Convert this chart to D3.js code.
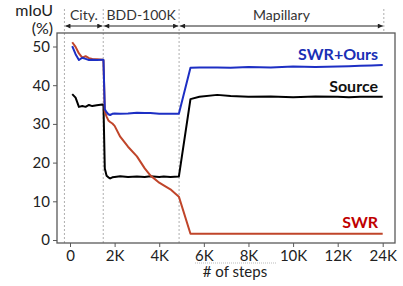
<!DOCTYPE html>
<html><head><meta charset="utf-8">
<script src="https://cdn.jsdelivr.net/npm/d3@7"></script>
<style>body{margin:0;background:#fff}svg{display:block}text{font-family:Lato,"Open Sans",sans-serif}</style>
</head><body>
<script>
const steps  = [100,250,400,550,700,850,1000,1200,1450,1500,1560,1640,1720,1800,1900,2000,2250,2600,3000,3350,3600,4000,4200,4500,4880,5400,5800,6600,7200,8000,9000,10000,11000,12000,15000,18000,21000,24000];
const source = [37.7,36.8,34.4,34.6,34.4,34.9,34.6,34.8,35.0,34.9,18.5,16.6,16.2,15.9,16.2,16.3,16.5,16.3,16.4,16.3,16.5,16.3,16.4,16.3,16.4,36.4,37.0,37.5,37.2,37.0,37.1,36.9,37.1,37.0,36.9,37.0,37.0,37.0];
const ours   = [50.1,48.0,46.5,47.1,46.8,46.5,46.6,46.5,46.6,46.5,33.8,33.0,32.5,32.3,32.6,32.7,32.6,32.7,32.9,32.8,32.8,32.6,32.6,32.6,32.6,44.5,44.6,44.6,44.5,44.7,44.6,44.8,44.7,44.8,44.9,45.0,45.1,45.2];
const swr    = [51.1,49.9,48.2,47.1,47.5,47.0,46.8,46.7,46.6,46.4,33.2,31.9,30.9,30.5,30.1,29.5,26.7,24.1,21.6,18.5,16.7,14.8,14.1,13.1,11.2,1.6,1.6,1.6,1.6,1.6,1.6,1.6,1.6,1.6,1.6,1.6,1.6,1.6];
const xTicks = [0,2000,4000,6000,8000,10000,12000,24000];
const xTickLabels = ["0","2K","4K","6K","8K","10K","12K","24K"];
const yTicks = [0,10,20,30,40,50];
const domains = [{name:"City.",from:-250,to:1490},{name:"BDD-100K",from:1490,to:4890},{name:"Mapillary",from:4890,to:24300}];
const seriesNames = ["SWR+Ours","Source","SWR"];

(function(){
const W=403,H=286;
const svg=d3.select("body").append("svg").attr("width",W).attr("height",H);
const x=d3.scaleLinear().domain([0,12000,24000]).range([70,337.7,382.7]);
const y=d3.scaleLinear().domain([0,50]).range([240,46.5]);
const pL=57,pR=395,pT=33,pB=243;
const axisCol="#595959";

domains.forEach(d=>{
  svg.append("line").attr("x1",x(d.from)).attr("x2",x(d.from)).attr("y1",9).attr("y2",pB)
    .attr("stroke","#999").attr("stroke-width",0.8).attr("stroke-dasharray","2,2");
});
svg.append("line").attr("x1",x(24300)).attr("x2",x(24300)).attr("y1",9).attr("y2",pT)
  .attr("stroke","#999").attr("stroke-width",0.8).attr("stroke-dasharray","2,2");

const defs=svg.append("defs");
defs.append("marker").attr("id","ah").attr("viewBox","0 0 10 10").attr("refX",10).attr("refY",5)
  .attr("markerWidth",6).attr("markerHeight",5).attr("orient","auto-start-reverse")
  .append("path").attr("d","M0,0L10,5L0,10z").attr("fill","#222");
domains.forEach(d=>{
  const x0=x(d.from)+1,x1=x(d.to)-1;
  svg.append("line").attr("x1",x0).attr("x2",x1).attr("y1",26).attr("y2",26)
    .attr("stroke","#222").attr("stroke-width",1)
    .attr("marker-start","url(#ah)").attr("marker-end","url(#ah)");
  svg.append("text").attr("x",(x(d.from)+x(d.to))/2).attr("y",20).attr("text-anchor","middle")
    .attr("font-size",14).attr("fill","#333").text(d.name);
});

const yAxis=svg.append("g").attr("transform",`translate(${pL},0)`)
  .call(d3.axisLeft(y).tickValues(yTicks).tickSize(4).tickPadding(3));
yAxis.select(".domain").remove();
yAxis.selectAll("line").attr("stroke",axisCol);
yAxis.selectAll("text").attr("font-size",15).attr("fill","#222").attr("font-family","Lato,sans-serif");

const xAxis=svg.append("g").attr("transform",`translate(0,${pB})`)
  .call(d3.axisBottom(x).tickValues(xTicks).tickFormat((d,i)=>xTickLabels[i]).tickSize(4).tickPadding(3));
xAxis.select(".domain").remove();
xAxis.selectAll("line").attr("stroke",axisCol);
xAxis.selectAll("text").attr("font-size",15).attr("fill","#222").attr("font-family","Lato,sans-serif");

svg.append("rect").attr("x",pL).attr("y",pT).attr("width",pR-pL).attr("height",pB-pT)
  .attr("fill","none").attr("stroke",axisCol).attr("stroke-width",1.3);

const line=vals=>d3.line().x((d,i)=>x(steps[i])).y(d=>y(d))(vals);
svg.append("path").attr("d",line(source)).attr("fill","none").attr("stroke","#000").attr("stroke-width",2).attr("stroke-linejoin","round");
svg.append("path").attr("d",line(swr)).attr("fill","none").attr("stroke","#c0452a").attr("stroke-width",2).attr("stroke-linejoin","round");
svg.append("path").attr("d",line(ours)).attr("fill","none").attr("stroke","#1d2fc4").attr("stroke-width",2).attr("stroke-linejoin","round");

svg.append("text").attr("x",378).attr("y",60).attr("text-anchor","end").attr("font-size",16).attr("font-weight","bold").attr("fill","#1a2fb5").text(seriesNames[0]);
svg.append("text").attr("x",378).attr("y",92).attr("text-anchor","end").attr("font-size",16).attr("font-weight","bold").attr("fill","#111").text(seriesNames[1]);
svg.append("text").attr("x",378).attr("y",228).attr("text-anchor","end").attr("font-size",16).attr("font-weight","bold").attr("fill","#c00000").text(seriesNames[2]);

svg.append("text").attr("x",53).attr("y",16).attr("text-anchor","end").attr("font-size",16).attr("fill","#222").text("mIoU");
svg.append("text").attr("x",53).attr("y",34).attr("text-anchor","end").attr("font-size",16).attr("fill","#222").text("(%)");
svg.append("text").attr("x",235).attr("y",277).attr("text-anchor","middle").attr("font-size",15).attr("fill","#222").text("# of steps");
svg.append("line").attr("x1",195).attr("x2",277).attr("y1",263).attr("y2",263).attr("stroke","#aaa").attr("stroke-width",0.8).attr("stroke-dasharray","1,1");
})();
</script>
</body></html>
